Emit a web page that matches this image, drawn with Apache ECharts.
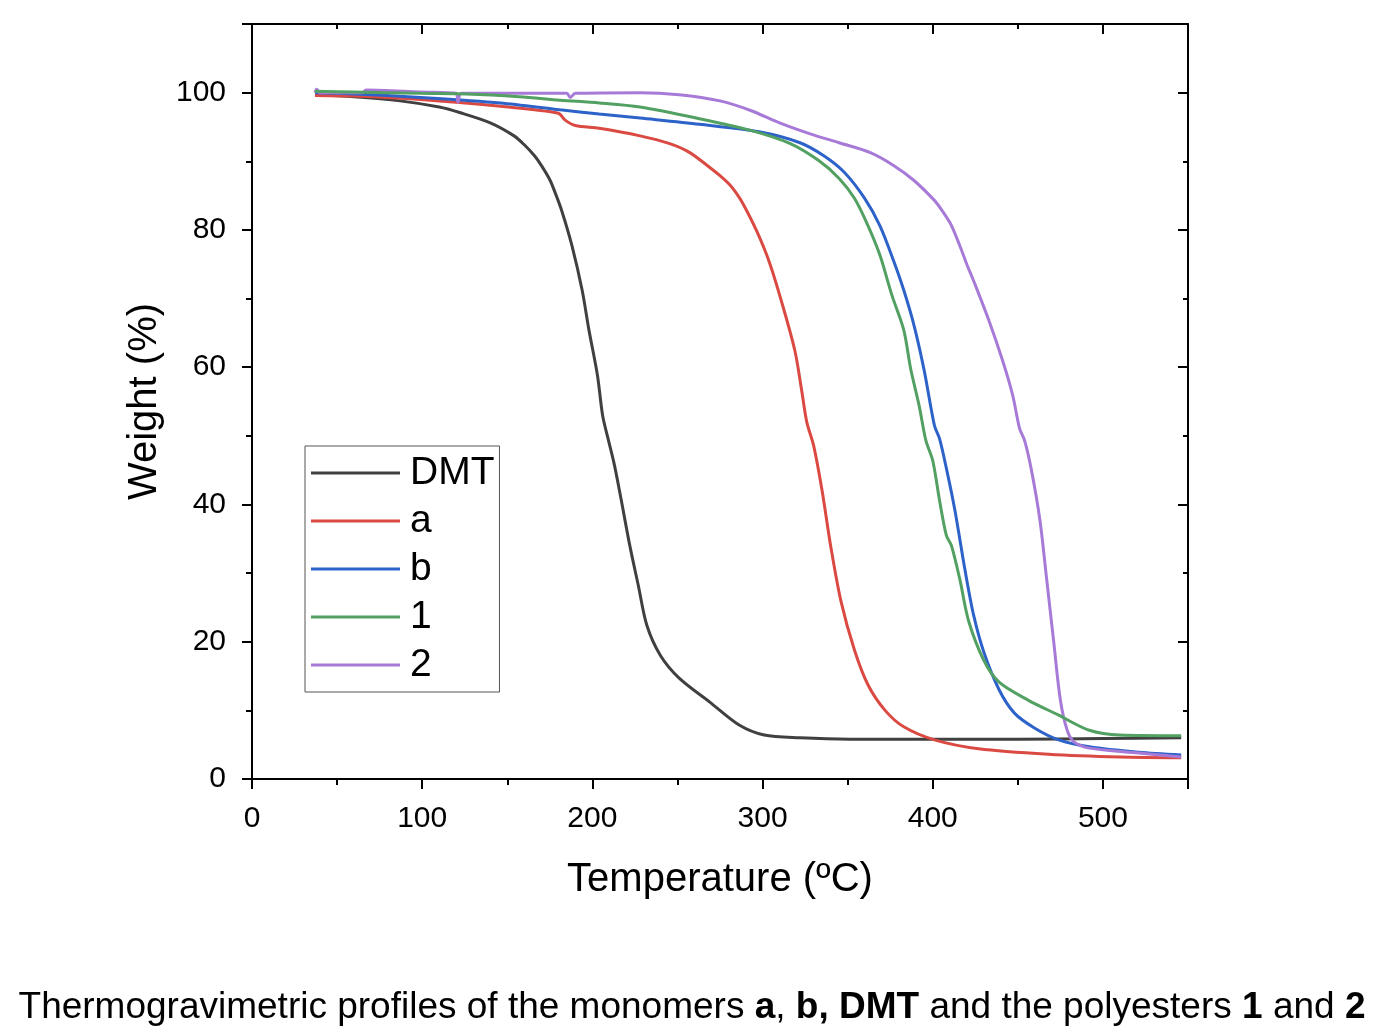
<!DOCTYPE html>
<html>
<head>
<meta charset="utf-8">
<script src="https://cdn.jsdelivr.net/npm/echarts@6/dist/echarts.min.js"></script>
<style>
html,body{margin:0;padding:0;background:#fff;}
#chart{width:1384px;height:1036px;}
</style>
</head>
<body>
<div id="chart"></div>
<script>
// ---- data ----
const seriesNames = ['DMT', 'a', 'b', '1', '2'];
const xTickLabels = ['0', '100', '200', '300', '400', '500'];
const yTickLabels = ['0', '20', '40', '60', '80', '100'];

const dmtT = [37, 60, 87, 110, 122, 140, 154, 160, 166, 170, 175, 178, 182, 188, 194, 198, 203, 206, 209, 213, 217, 222, 227, 232, 240, 251, 269, 286, 301, 322, 351, 400, 450, 500, 546];
const dmtW = [99.7, 99.4, 98.8, 97.9, 97.1, 95.6, 93.7, 92.4, 90.8, 89.4, 87.3, 85.5, 82.8, 77.7, 71.2, 65.4, 58.8, 53, 49.8, 45.7, 40.6, 34, 28.2, 22.4, 18, 14.7, 11.2, 7.9, 6.4, 6.0, 5.8, 5.8, 5.8, 5.9, 6.0];

const aT = [37, 60, 99, 146, 180, 184, 190, 204, 228, 245, 257, 269, 275, 281, 285, 289, 297, 304, 311, 319, 323, 326, 330, 335, 340, 346, 354, 362, 372, 383, 401, 427, 468, 510, 546];
const aW = [99.6, 99.5, 99.0, 98.0, 97.0, 96.0, 95.2, 94.8, 93.7, 92.6, 91.3, 89.1, 87.9, 86.5, 85.2, 83.6, 79.6, 75.3, 69.7, 62.4, 56.6, 52, 48.6, 42, 34, 26, 18.8, 13.7, 10, 7.6, 5.7, 4.4, 3.6, 3.2, 3.1];

const bT = [37, 60, 99, 146, 181, 204, 228, 263, 298, 322, 336, 348, 360, 369, 377, 383, 389, 395, 401, 404, 408, 413, 419, 424, 430, 439, 448, 460, 474, 492, 521, 546];
const bW = [100, 99.8, 99.3, 98.5, 97.5, 96.9, 96.3, 95.4, 94.3, 92.7, 90.8, 88.4, 84.6, 80.6, 75.5, 71.2, 66.1, 59.5, 51.5, 49.6, 45.3, 39.2, 30.4, 23.9, 18.5, 13, 9.6, 7.4, 5.7, 4.7, 3.9, 3.5];

const p1T = [37, 60, 99, 126, 157, 181, 204, 228, 263, 293, 316, 333, 345, 354, 362, 369, 376, 383, 387, 392, 396, 400, 404, 408, 411, 416, 421, 430, 439, 456, 474, 492, 510, 546];
const p1W = [100.2, 100.1, 99.9, 99.8, 99.4, 98.9, 98.5, 97.9, 96.2, 94.5, 92.6, 90.1, 87.5, 84.6, 80.6, 76.3, 70.5, 65.4, 59.8, 54.4, 49.3, 46.4, 40.6, 35.5, 34, 29, 23.1, 17.3, 14.1, 11.5, 9.3, 7.1, 6.4, 6.3];

const p2T = [37, 38, 40, 65, 67, 99, 120, 121, 123, 170, 185, 187, 190, 228, 251, 275, 293, 310, 328, 345, 363, 377, 389, 401, 405, 410, 413, 417, 420, 424, 433, 441, 447, 451, 454, 458, 463, 467, 471, 475, 479, 483, 492, 521, 546];
const p2W = [100, 100.5, 100, 100, 100.4, 100.1, 99.9, 98.6, 99.9, 99.9, 99.9, 99.3, 99.9, 100, 99.7, 98.8, 97.4, 95.6, 94, 92.7, 91.3, 89.4, 87.2, 84.3, 83.0, 81.1, 79.5, 77, 75.0, 72.6, 66.8, 61, 55.9, 51.1, 49.3, 45, 37.7, 29, 20.2, 11.5, 7.1, 5.4, 4.5, 3.8, 3.2];

const colors = ['#404040', '#da4a43', '#2d63c9', '#52a062', '#a87ad8'];
// ---------------------------------------

const FONT = 'Liberation Sans, Arial, sans-serif';
const zip = (t, w) => t.map((v, i) => [v, w[i]]);
const allData = [zip(dmtT, dmtW), zip(aT, aW), zip(bT, bW), zip(p1T, p1W), zip(p2T, p2W)];

const chart = echarts.init(document.getElementById('chart'), null, {renderer: 'canvas'});

const xLabelFmt = v => (xTickLabels.indexOf(String(v)) >= 0 ? String(v) : '');
const yLabelFmt = v => (yTickLabels.indexOf(String(v)) >= 0 ? String(v) : '');

const axisLine = {show: true, onZero: false, lineStyle: {color: '#000', width: 2}};

const option = {
  animation: false,
  backgroundColor: '#fff',
  grid: {left: 252, top: 24, right: 196, bottom: 257, containLabel: false},
  legend: {
    orient: 'vertical',
    left: 305, top: 446,
    padding: [7, 5, 7, 6],
    itemGap: 8,
    itemWidth: 89,
    itemHeight: 3,
    icon: 'rect',
    borderColor: '#555',
    borderWidth: 1,
    borderRadius: 0,
    backgroundColor: '#fff',
    textStyle: {fontFamily: FONT, fontSize: 39, color: '#000', lineHeight: 40, padding: [0, 0, 0, 5]},
    data: seriesNames
  },
  xAxis: [{
    type: 'value', position: 'bottom', min: 0, max: 550, interval: 100,
    axisLine: axisLine,
    axisTick: {show: true, inside: false, length: 10, lineStyle: {color: '#000', width: 2}},
    minorTick: {show: true, splitNumber: 2, length: 6, lineStyle: {color: '#000', width: 2}},
    splitLine: {show: false},
    axisLabel: {show: true, margin: 25, fontSize: 30, fontFamily: FONT, color: '#000', formatter: xLabelFmt},
    name: 'Temperature (ºC)', nameLocation: 'middle', nameGap: 81,
    nameTextStyle: {fontSize: 40, fontFamily: FONT, color: '#000'}
  }, {
    type: 'value', position: 'top', min: 0, max: 550, interval: 100,
    axisLine: axisLine,
    axisTick: {show: true, inside: true, length: 10, lineStyle: {color: '#000', width: 2}},
    minorTick: {show: true, splitNumber: 2, length: 5, lineStyle: {color: '#000', width: 2}},
    splitLine: {show: false},
    axisLabel: {show: false}
  }],
  yAxis: [{
    type: 'value', position: 'left', min: 0, max: 110, interval: 20,
    axisLine: axisLine,
    axisTick: {show: true, inside: false, length: 10, lineStyle: {color: '#000', width: 2}},
    minorTick: {show: true, splitNumber: 2, length: 6, lineStyle: {color: '#000', width: 2}},
    splitLine: {show: false},
    axisLabel: {show: true, margin: 26, fontSize: 30, fontFamily: FONT, color: '#000', formatter: yLabelFmt},
    name: 'Weight (%)', nameLocation: 'middle', nameGap: 86,
    nameTextStyle: {fontSize: 40, fontFamily: FONT, color: '#000'}
  }, {
    type: 'value', position: 'right', min: 0, max: 110, interval: 20,
    axisLine: axisLine,
    axisTick: {show: true, inside: true, length: 10, lineStyle: {color: '#000', width: 2}},
    minorTick: {show: true, splitNumber: 2, length: 5, lineStyle: {color: '#000', width: 2}},
    splitLine: {show: false},
    axisLabel: {show: false}
  }],
  series: seriesNames.map((n, i) => ({
    name: n,
    type: 'line',
    xAxisIndex: 0, yAxisIndex: 0,
    data: allData[i],
    showSymbol: false,
    symbol: 'none',
    smooth: 0.3,
    color: colors[i],
    lineStyle: {color: colors[i], width: 3},
    z: [1, 2, 3, 5, 4][i]
  })),
  graphic: [{
    type: 'text',
    left: 'center',
    top: 989,
    style: {
      text: '{n|Thermogravimetric profiles of the monomers }{b|a}{n|, }{b|b, DMT}{n| and the polyesters }{b|1}{n| and }{b|2}',
      rich: {
        n: {fontFamily: FONT, fontSize: 37, fill: '#000'},
        b: {fontFamily: FONT, fontSize: 37, fontWeight: 'bold', fill: '#000'}
      }
    }
  }]
};
chart.setOption(option);
</script>
</body>
</html>
